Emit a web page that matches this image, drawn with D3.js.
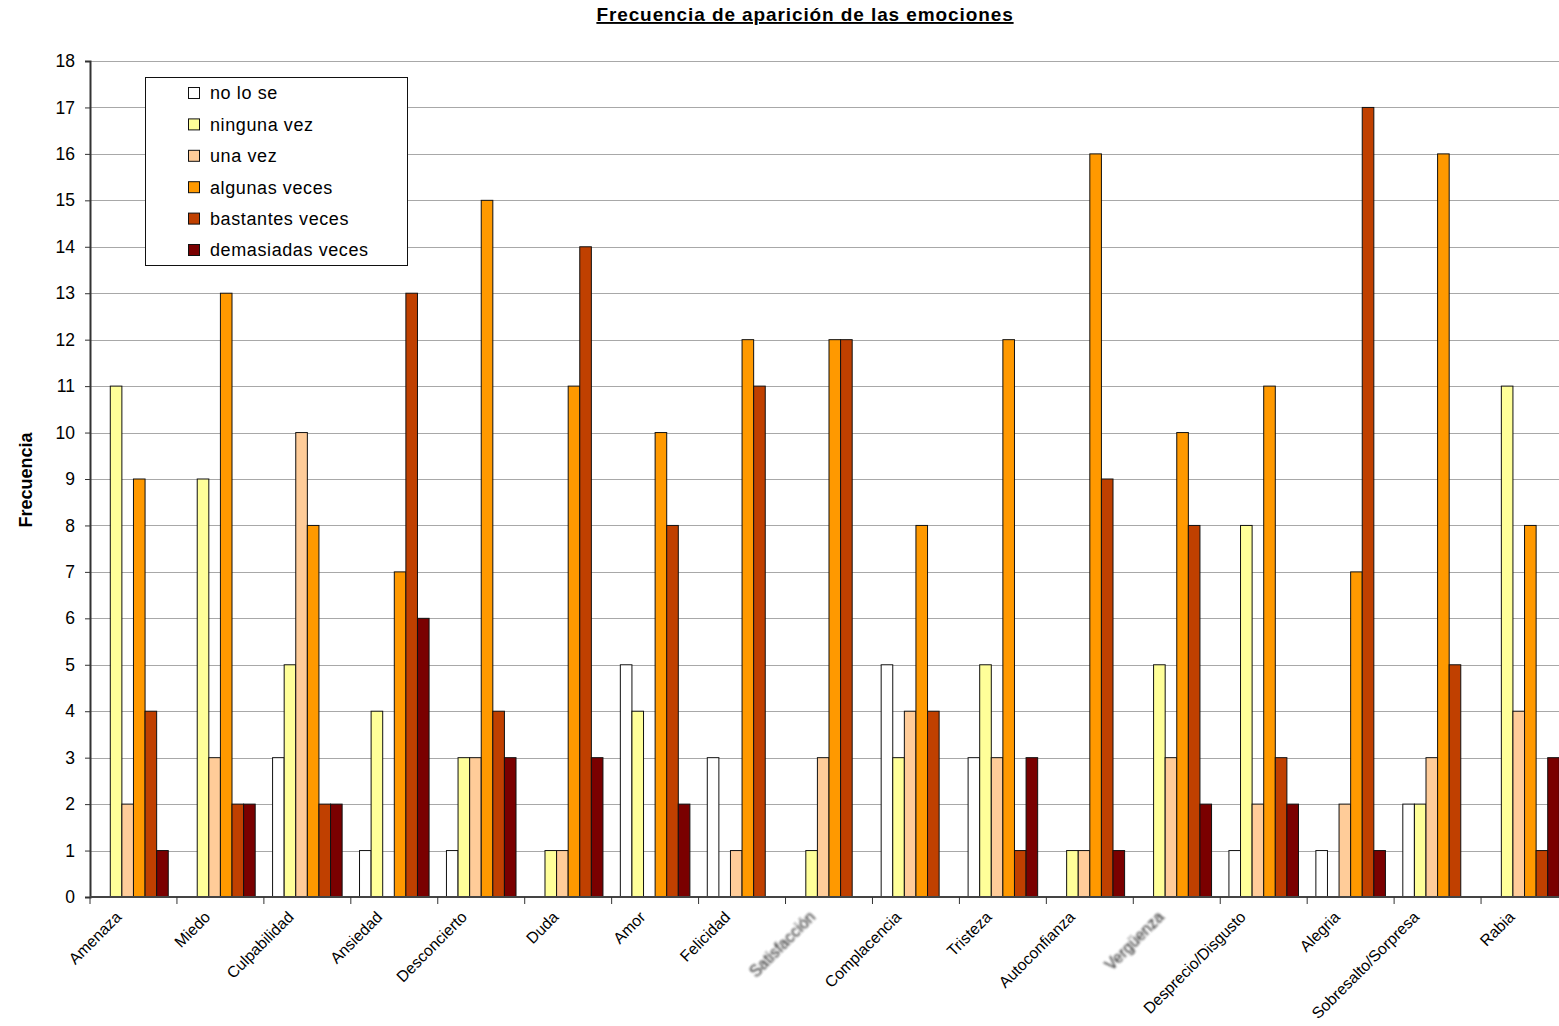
<!DOCTYPE html>
<html>
<head>
<meta charset="utf-8">
<script src="https://cdn.jsdelivr.net/npm/d3@7"></script>
<style>
  html, body { margin: 0; padding: 0; background: #fff; overflow: hidden; }
  svg { display: block; font-family: "Liberation Sans", Arial, sans-serif; }
</style>
</head>
<body>
<svg id="chart" width="1559" height="1026"></svg>
<script>
const categories = ["Amenaza","Miedo","Culpabilidad","Ansiedad","Desconcierto","Duda","Amor","Felicidad","Satisfacción","Complacencia","Tristeza","Autoconfianza","Vergüenza","Desprecio/Disgusto","Alegria","Sobresalto/Sorpresa","Rabia"];
const seriesNames = ["no lo se","ninguna vez","una vez","algunas veces","bastantes veces","demasiadas veces"];
const seriesColors = ["#FFFFFF","#FFFF99","#FFCC99","#FF9900","#C04000","#7A0000"];
const noLoSe      = [0,0,3,1,1,0,5,3,0,5,3,0,0,1,1,2,0];
const ningunaVez  = [11,9,5,4,3,1,4,0,1,3,5,1,5,8,0,2,11];
const unaVez      = [2,3,10,0,3,1,0,1,3,4,3,1,3,2,2,3,4];
const algunasVeces= [9,13,8,7,15,11,10,12,12,8,12,16,10,11,7,16,8];
const bastantesVeces = [4,2,2,13,4,14,8,11,12,4,1,9,8,3,17,5,1];
const demasiadasVeces = [1,2,2,6,3,3,2,0,0,0,3,1,2,2,1,0,3];
const yTicks = [0,1,2,3,4,5,6,7,8,9,10,11,12,13,14,15,16,17,18];
const blurredLabels = ["Satisfacción","Vergüenza"];
const titleText = "Frecuencia de aparición de las emociones";
const yTitle = "Frecuencia";

const seriesValues = [noLoSe, ningunaVez, unaVez, algunasVeces, bastantesVeces, demasiadasVeces];

const svg = d3.select("#chart");
const mLeft = 90, mRight = 1568, mTop = 61, mBottom = 897;

const defs = svg.append("defs");
defs.append("filter").attr("id","blur").attr("x","-10%").attr("y","-10%").attr("width","120%").attr("height","120%")
  .append("feGaussianBlur").attr("stdDeviation", 0.8);

const x0 = d3.scaleBand().domain(categories).range([mLeft, mRight]).padding(0);
const bw = x0.bandwidth();
const x1 = d3.scaleBand().domain(seriesNames).range([bw*0.1, bw*0.9]).padding(0);
const y = d3.scaleLinear().domain([0,18]).range([mBottom, mTop]);

// gridlines
svg.append("g").selectAll("line").data(yTicks.filter(t => t > 0)).join("line")
  .attr("x1", mLeft).attr("x2", mRight)
  .attr("y1", d => Math.round(y(d)) + 0.5).attr("y2", d => Math.round(y(d)) + 0.5)
  .attr("stroke", "#a8a8a8").attr("stroke-width", 1);

// bars
const groups = svg.append("g").selectAll("g").data(categories).join("g")
  .attr("transform", d => `translate(${x0(d)},0)`);
groups.selectAll("rect")
  .data((c, i) => seriesNames.map((s, j) => ({s, j, v: seriesValues[j][i]})).filter(d => d.v > 0))
  .join("rect")
  .attr("x", d => x1(d.s))
  .attr("y", d => y(d.v))
  .attr("width", x1.bandwidth())
  .attr("height", d => y(0) - y(d.v))
  .attr("fill", d => seriesColors[d.j])
  .attr("stroke", "#111")
  .attr("stroke-width", 1);

// y axis
const yAxis = d3.axisLeft(y).tickValues(yTicks).tickSize(5).tickPadding(10).tickFormat(d3.format("d"));
const gy = svg.append("g").attr("transform", `translate(${mLeft},0)`).call(yAxis);
gy.select(".domain").attr("stroke", "#333").attr("stroke-width", 2);
gy.selectAll(".tick line").attr("stroke", "#333");
gy.selectAll(".tick text").attr("font-size", 17.5).attr("fill", "#000").attr("font-family", "Liberation Sans, Arial, sans-serif");

// x axis
const boundaries = categories.map(c => x0(c)).concat([mRight]);
const gx = svg.append("g");
gx.append("line").attr("x1", mLeft).attr("x2", mRight).attr("y1", mBottom).attr("y2", mBottom)
  .attr("stroke", "#444").attr("stroke-width", 2);
gx.selectAll("line.tk").data(boundaries).join("line").attr("class","tk")
  .attr("x1", d => d).attr("x2", d => d).attr("y1", mBottom).attr("y2", mBottom + 7)
  .attr("stroke", "#333").attr("stroke-width", 1);

const labels = gx.selectAll("text").data(categories).join("text")
  .attr("text-anchor", "end")
  .attr("font-size", 15.8)
  .attr("fill", d => blurredLabels.includes(d) ? "#222" : "#000")
  .attr("filter", d => blurredLabels.includes(d) ? "url(#blur)" : null)
  .text(d => d);
labels.each(function(d) {
  const L = this.getComputedTextLength();
  d3.select(this).attr("transform", `translate(${x0(d) + bw/2 - 5.5 - 0.083 * L},${mBottom + 21}) rotate(-45)`);
});

// title
svg.append("text").attr("x", 805).attr("y", 21).attr("text-anchor", "middle")
  .attr("font-size", 19).attr("letter-spacing", 0.9).attr("font-weight", "bold").attr("text-decoration", "underline")
  .text(titleText);

// y title
svg.append("text").attr("transform", `translate(32,480) rotate(-90)`).attr("text-anchor", "middle")
  .attr("font-size", 18).attr("font-weight", "bold").text(yTitle);

// legend
const lg = svg.append("g");
lg.append("rect").attr("x", 145.5).attr("y", 77.5).attr("width", 262).attr("height", 188)
  .attr("fill", "#fff").attr("stroke", "#111").attr("stroke-width", 1);
const rowY = d3.scalePoint().domain(seriesNames).range([93, 250]);
const items = lg.selectAll("g").data(seriesNames).join("g")
  .attr("transform", d => `translate(0,${rowY(d)})`);
items.append("rect").attr("x", 188.5).attr("y", -5.5).attr("width", 11).attr("height", 11)
  .attr("fill", (d, i) => seriesColors[i]).attr("stroke", "#111").attr("stroke-width", 1);
items.append("text").attr("x", 210).attr("y", 0).attr("dy", "0.36em")
  .attr("font-size", 18).attr("letter-spacing", 0.6).text(d => d);
</script>
</body>
</html>
